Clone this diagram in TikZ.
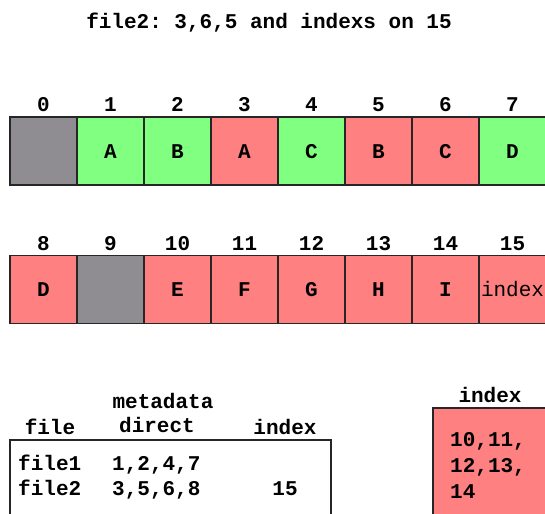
\documentclass[tikz,border=0pt]{standalone}
\usepackage{fontspec}
\setmonofont{Liberation Mono}
\usepackage{tikz}
\usetikzlibrary{positioning}

\definecolor{used}{RGB}{128,255,128}
\definecolor{moved}{RGB}{255,128,128}
\definecolor{free}{RGB}{143,141,146}

\begin{document}
\begin{tikzpicture}
        [x=1pt,y=-1pt,
         every node/.style={font=\fontsize{21}{26}\selectfont\ttfamily\bfseries,text height=14pt,text depth=0pt},
         cell/.style={draw=black!85,line width=1.5pt,minimum width=67pt,minimum height=68pt,inner sep=0pt},
         box/.style={draw=black!85,line width=1.3pt,inner sep=0pt}]
        \clip (0,0) rectangle (545,513);
        \node (title) at (269,22) {file2: 3,6,5 and indexs on 15};

        % first row of blocks
        \foreach \i/\t/\c in {0//free, 1/A/used, 2/B/used, 3/A/moved, 4/C/used, 5/B/moved, 6/C/moved, 7/D/used} {
            \node[cell,fill=\c] (b\i) at (43.5+67*\i,151) {\t};
            \node (n\i) at (43.5+67*\i,105) {\i};
        }

        % second row of blocks
        \foreach \i/\t/\c in {8/D/moved, 9//free, 10/E/moved, 11/F/moved, 12/G/moved, 13/H/moved, 14/I/moved} {
            \node[cell,fill=\c] (b\i) at (43.5+67*\i-536,289.5) {\t};
            \node (n\i) at (43.5+67*\i-536,243) {\i};
        }
        \node[cell,fill=moved,font=\fontsize{21}{26}\selectfont\ttfamily] (b15) at (512.5,289.5) {index};
        \node (n15) at (512.5,243) {15};

        % metadata table
        \node[box,minimum width=321pt,minimum height=120pt] (meta) at (170.5,500) {};
        \node (mhead) at (163,401) {metadata};
        \node (hfile) at (50,427) {file};
        \node (hdirect) at (157,425) {direct};
        \node (hindex) at (285,427) {index};
        \node[anchor=west,inner sep=0pt] (f1) at (18,463) {file1};
        \node[anchor=west,inner sep=0pt] (d1) at (112,463) {1,2,4,7};
        \node[anchor=west,inner sep=0pt] (f2) at (18,488) {file2};
        \node[anchor=west,inner sep=0pt] (d2) at (112,488) {3,5,6,8};
        \node (i2) at (285,488) {15};

        % index block
        \node[box,fill=moved,minimum width=114pt,minimum height=130pt] (iblock) at (490,473) {};
        \node (ihead) at (490,395) {index};
        \node[anchor=west,align=left,inner sep=0pt,text height=,text depth=] (ilist) at (450,465) {10,11,\\12,13,\\14};

      \end{tikzpicture}
\end{document}
